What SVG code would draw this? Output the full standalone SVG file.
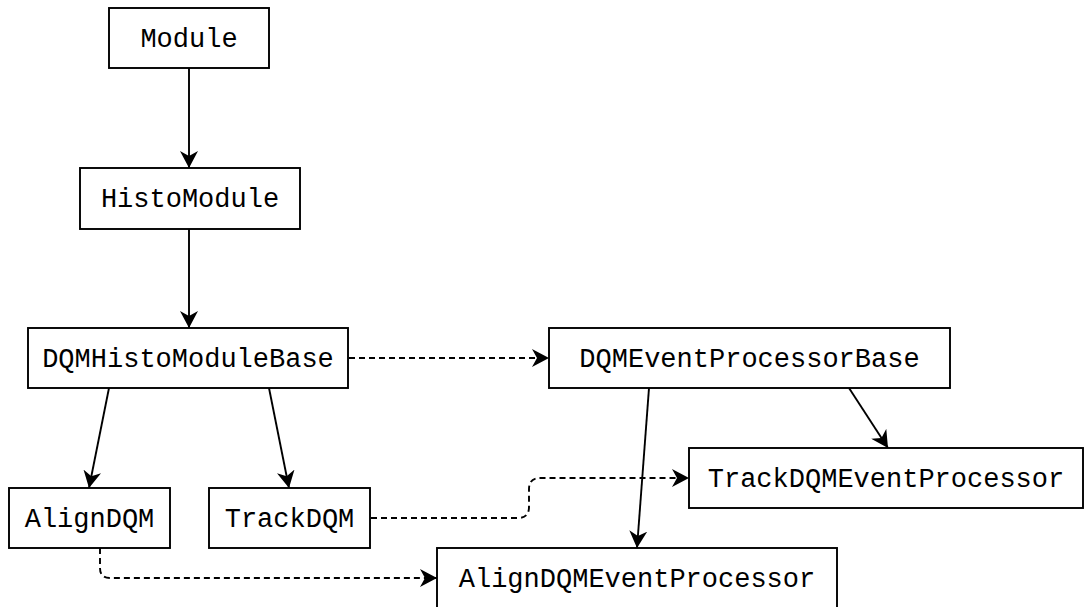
<svg xmlns="http://www.w3.org/2000/svg" width="1086" height="607" viewBox="0 0 1086 607">
  <style>
    .box { fill: #ffffff; stroke: #000000; stroke-width: 1.9; }
    .lbl { font-family: "Liberation Mono", "DejaVu Sans Mono", monospace; font-size: 27px; fill: #000000; text-anchor: middle; }
    .edge { fill: none; stroke: #000000; stroke-width: 1.9; marker-end: url(#head); }
    .dash { stroke-dasharray: 6 4; }
  </style>
  <defs>
    <marker id="head" markerUnits="userSpaceOnUse" viewBox="0 0 18 18" markerWidth="18" markerHeight="18" refX="17" refY="9" orient="auto">
      <path d="M0,0 L17,9 L0,18 L5,9 Z" fill="#000000"/>
    </marker>
  </defs>

  <rect width="1086" height="607" fill="#ffffff"/>

  <g id="connectors">
    <path class="edge" d="M189,68 L189,168"/>
    <path class="edge" d="M189,229 L189,328"/>
    <path class="edge" d="M109,388 L89,488"/>
    <path class="edge" d="M269,388 L289,488"/>
    <path class="edge" d="M849,388 L888,448"/>
    <path class="edge" d="M649,388 L637,548"/>
    <path class="edge dash" d="M349,358 L549,358"/>
    <path class="edge dash" d="M371,518 L518,518 Q529,518 529,507 L529,489 Q529,478 540,478 L689,478"/>
    <path class="edge dash" d="M100,548 L100,568 Q100,578 110,578 L437,578"/>
  </g>

  <g id="module">
    <rect class="box" x="109" y="8" width="160" height="60"/>
    <text class="lbl" x="189" y="47">Module</text>
  </g>
  <g id="histomodule">
    <rect class="box" x="80" y="168" width="220" height="61"/>
    <text class="lbl" x="190" y="207">HistoModule</text>
  </g>
  <g id="dqmhistomodulebase">
    <rect class="box" x="28" y="328" width="320" height="60"/>
    <text class="lbl" x="188" y="367">DQMHistoModuleBase</text>
  </g>
  <g id="dqmeventprocessorbase">
    <rect class="box" x="549" y="328" width="401" height="60"/>
    <text class="lbl" x="749.5" y="367">DQMEventProcessorBase</text>
  </g>
  <g id="aligndqm">
    <rect class="box" x="9" y="488" width="161" height="60"/>
    <text class="lbl" x="89.5" y="527">AlignDQM</text>
  </g>
  <g id="trackdqm">
    <rect class="box" x="209" y="488" width="161" height="60"/>
    <text class="lbl" x="289.5" y="527">TrackDQM</text>
  </g>
  <g id="trackdqmeventprocessor">
    <rect class="box" x="689" y="448" width="394" height="60"/>
    <text class="lbl" x="886" y="487">TrackDQMEventProcessor</text>
  </g>
  <g id="aligndqmeventprocessor">
    <rect class="box" x="437" y="548" width="400" height="62"/>
    <text class="lbl" x="637" y="587">AlignDQMEventProcessor</text>
  </g>
</svg>
